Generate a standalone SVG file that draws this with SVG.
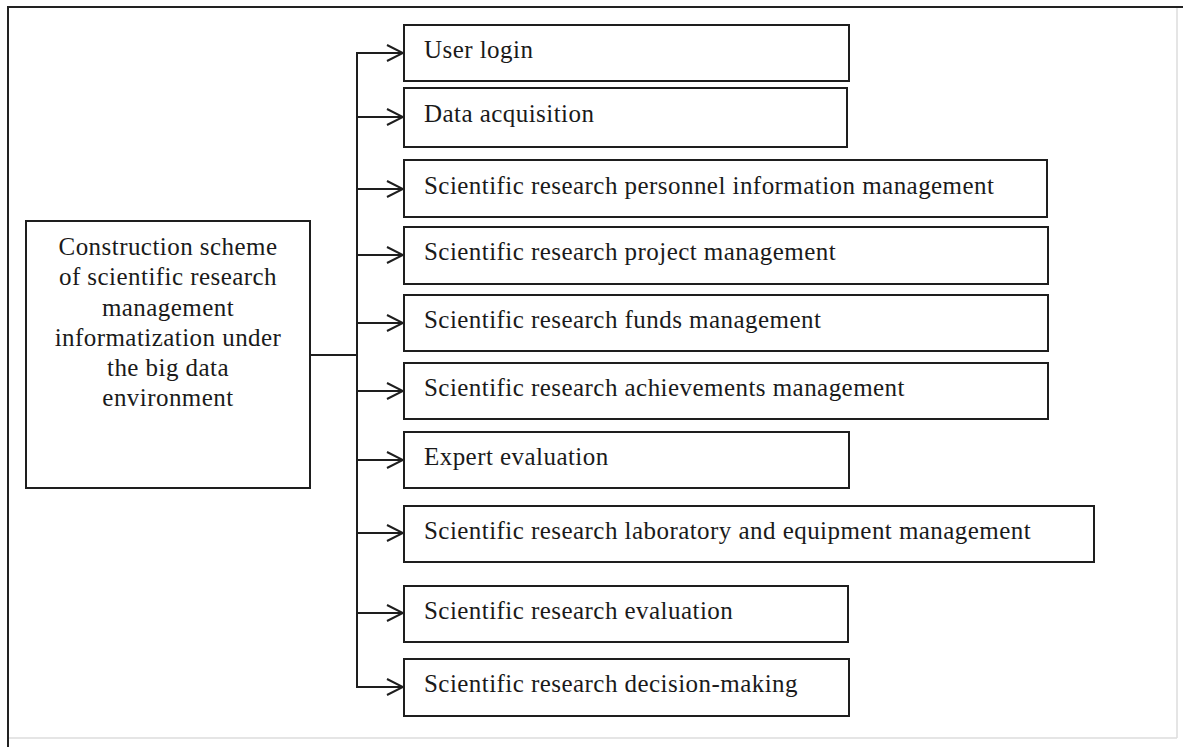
<svg xmlns="http://www.w3.org/2000/svg" width="1183" height="747" viewBox="0 0 1183 747">
<style>
  .box { fill: #ffffff; stroke: #1e1e1e; stroke-width: 2; }
  .lbl { font-family: "Liberation Serif", "Times New Roman", serif; font-size: 25px; letter-spacing: 0.45px; fill: #1a1a1a; }
  .ctr { font-family: "Liberation Serif", "Times New Roman", serif; font-size: 25px; letter-spacing: 0.45px; fill: #1a1a1a; text-anchor: middle; }
  .wire { fill: none; stroke: #1e1e1e; stroke-width: 2; }
  .frame { fill: none; stroke: #222; stroke-width: 2; }
  .frame-light { fill: none; stroke: #dcdcdc; stroke-width: 1.5; }
</style>
<defs>
  <marker id="arr" viewBox="0 0 20 20" refX="18" refY="10" markerWidth="20" markerHeight="20" markerUnits="userSpaceOnUse" orient="auto">
    <path d="M2,2 L18,10 L2,18" fill="none" stroke="#1e1e1e" stroke-width="2"/>
  </marker>
</defs>
<rect x="0" y="0" width="1183" height="747" fill="#ffffff"/>
<g id="frame">
  <line class="frame-light" x1="1177" y1="8" x2="1177" y2="738"/>
  <line class="frame-light" x1="9" y1="738" x2="1177" y2="738"/>
  <line class="frame" x1="8" y1="7" x2="1183" y2="7"/>
  <line class="frame" x1="8" y1="6" x2="8" y2="747"/>
</g>
<g id="connectors">
  <line class="wire" x1="310" y1="355" x2="357" y2="355"/>
  <line class="wire" x1="357" y1="53" x2="357" y2="688"/>
  <line class="wire" x1="356" y1="53" x2="403" y2="53" marker-end="url(#arr)"/>
  <line class="wire" x1="357" y1="117" x2="403" y2="117" marker-end="url(#arr)"/>
  <line class="wire" x1="357" y1="189" x2="403" y2="189" marker-end="url(#arr)"/>
  <line class="wire" x1="357" y1="255" x2="403" y2="255" marker-end="url(#arr)"/>
  <line class="wire" x1="357" y1="323" x2="403" y2="323" marker-end="url(#arr)"/>
  <line class="wire" x1="357" y1="391" x2="403" y2="391" marker-end="url(#arr)"/>
  <line class="wire" x1="357" y1="460" x2="403" y2="460" marker-end="url(#arr)"/>
  <line class="wire" x1="357" y1="533" x2="403" y2="533" marker-end="url(#arr)"/>
  <line class="wire" x1="357" y1="613" x2="403" y2="613" marker-end="url(#arr)"/>
  <line class="wire" x1="356" y1="687" x2="403" y2="687" marker-end="url(#arr)"/>
</g>
<g id="root">
  <rect class="box" x="26" y="221" width="284" height="267"/>
  <text class="ctr" x="168" y="255">Construction scheme</text>
  <text class="ctr" x="168" y="285">of scientific research</text>
  <text class="ctr" x="168" y="316">management</text>
  <text class="ctr" x="168" y="346">informatization under</text>
  <text class="ctr" x="168" y="376">the big data</text>
  <text class="ctr" x="168" y="406">environment</text>
</g>
<g id="n1"><rect class="box" x="404" y="25" width="445" height="56"/><text class="lbl" x="424" y="58">User login</text></g>
<g id="n2"><rect class="box" x="404" y="88" width="443" height="59"/><text class="lbl" x="424" y="122">Data acquisition</text></g>
<g id="n3"><rect class="box" x="404" y="160" width="643" height="57"/><text class="lbl" x="424" y="194">Scientific research personnel information management</text></g>
<g id="n4"><rect class="box" x="404" y="227" width="644" height="57"/><text class="lbl" x="424" y="260">Scientific research project management</text></g>
<g id="n5"><rect class="box" x="404" y="295" width="644" height="56"/><text class="lbl" x="424" y="328">Scientific research funds management</text></g>
<g id="n6"><rect class="box" x="404" y="363" width="644" height="56"/><text class="lbl" x="424" y="396">Scientific research achievements management</text></g>
<g id="n7"><rect class="box" x="404" y="432" width="445" height="56"/><text class="lbl" x="424" y="465">Expert evaluation</text></g>
<g id="n8"><rect class="box" x="404" y="506" width="690" height="56"/><text class="lbl" x="424" y="539">Scientific research laboratory and equipment management</text></g>
<g id="n9"><rect class="box" x="404" y="586" width="444" height="56"/><text class="lbl" x="424" y="619">Scientific research evaluation</text></g>
<g id="n10"><rect class="box" x="404" y="659" width="445" height="57"/><text class="lbl" x="424" y="692">Scientific research decision-making</text></g>
</svg>
